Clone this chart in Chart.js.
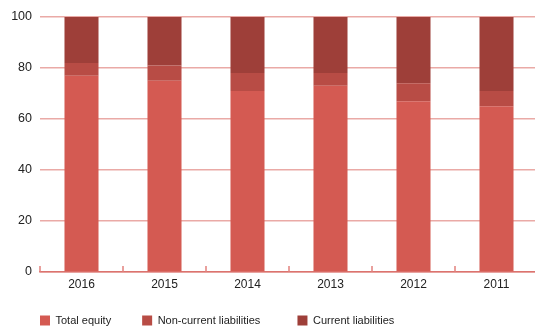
<!DOCTYPE html>
<html>
<head>
<meta charset="utf-8">
<script src="https://cdn.jsdelivr.net/npm/chart.js@4"></script>
<style>
    html, body { margin: 0; padding: 0; background: #fff; overflow: hidden; }
    .wrap { width: 538px; height: 336px; }
</style>
</head>
<body>
<div class="wrap"><canvas id="myChart" width="538" height="336"></canvas></div>
<script>
// chart data
const years = ['2016', '2015', '2014', '2013', '2012', '2011'];
const totalEquity = [77, 75, 71, 73, 67, 65];
const nonCurrentLiabilities = [5, 6, 7, 5, 7, 6];
const currentLiabilities = [18, 19, 22, 22, 26, 29];
const yTicks = [0, 20, 40, 60, 80, 100];

// extra trailing spaces after each legend entry, to spread them out
const legendSpacing = [0, 2, 0];
const legendPadding = 31;

const ctx = document.getElementById('myChart').getContext('2d');

Chart.defaults.font.family = '"Liberation Sans", Arial, sans-serif';
Chart.defaults.color = '#222';

// short marks between the categories, pointing up from the x axis
const boundaryTicks = {
    id: 'boundaryTicks',
    afterDatasetsDraw(chart) {
        const x = chart.scales.x;
        const bottom = chart.chartArea.bottom;
        const step = x.getPixelForValue(1) - x.getPixelForValue(0);
        const c = chart.ctx;
        c.save();
        c.strokeStyle = '#e2817c';
        c.lineWidth = 1.5;
        for (let i = 0; i <= years.length; i++) {
            const px = x.getPixelForValue(i) - step / 2;
            c.beginPath();
            c.moveTo(px, bottom);
            c.lineTo(px, bottom - 6);
            c.stroke();
        }
        c.restore();
    }
};

const data = {
    labels: years,
    datasets: [
        { label: 'Total equity', data: totalEquity, backgroundColor: '#d45a52' },
        { label: 'Non-current liabilities', data: nonCurrentLiabilities, backgroundColor: '#b84c45' },
        { label: 'Current liabilities', data: currentLiabilities, backgroundColor: '#9e3f39' }
    ]
};

const config = {
    type: 'bar',
    data: data,
    options: {
        responsive: false,
        animation: false,
        categoryPercentage: 1,
        barPercentage: 0.41,
        layout: { padding: { top: 17, left: 40 - legendPadding, right: 0, bottom: 0 } },
        scales: {
            x: {
                stacked: true,
                grid: { display: false, drawTicks: false },
                border: { display: true, color: '#dc736e', width: 1.5 },
                // mirrored + negative padding pushes the year labels below the axis
                // without them being clipped to the (short) axis box
                ticks: { mirror: true, padding: -20, font: { size: 12 } },
                afterFit(scale) { scale.height = 43 - legendPadding; }
            },
            y: {
                stacked: true,
                min: 0,
                max: 100,
                afterBuildTicks(scale) { scale.ticks = yTicks.map(v => ({ value: v })); },
                grid: { color: '#eaaaa6', lineWidth: 1.5, drawTicks: false },
                border: { display: false },
                ticks: { padding: 8, font: { size: 12.5 } },
                afterFit(scale) { scale.width = legendPadding; }
            }
        },
        plugins: {
            tooltip: { enabled: false },
            legend: {
                position: 'bottom',
                align: 'start',
                labels: {
                    boxWidth: 10,
                    boxHeight: 10,
                    padding: legendPadding,
                    font: { size: 11 },
                    generateLabels(chart) {
                        const items = Chart.defaults.plugins.legend.labels.generateLabels(chart);
                        items.forEach((item, i) => {
                            item.text += ' '.repeat(legendSpacing[i]);
                        });
                        return items;
                    }
                }
            }
        }
    },
    plugins: [boundaryTicks]
};

const chart = new Chart(ctx, config);
</script>
</body>
</html>
